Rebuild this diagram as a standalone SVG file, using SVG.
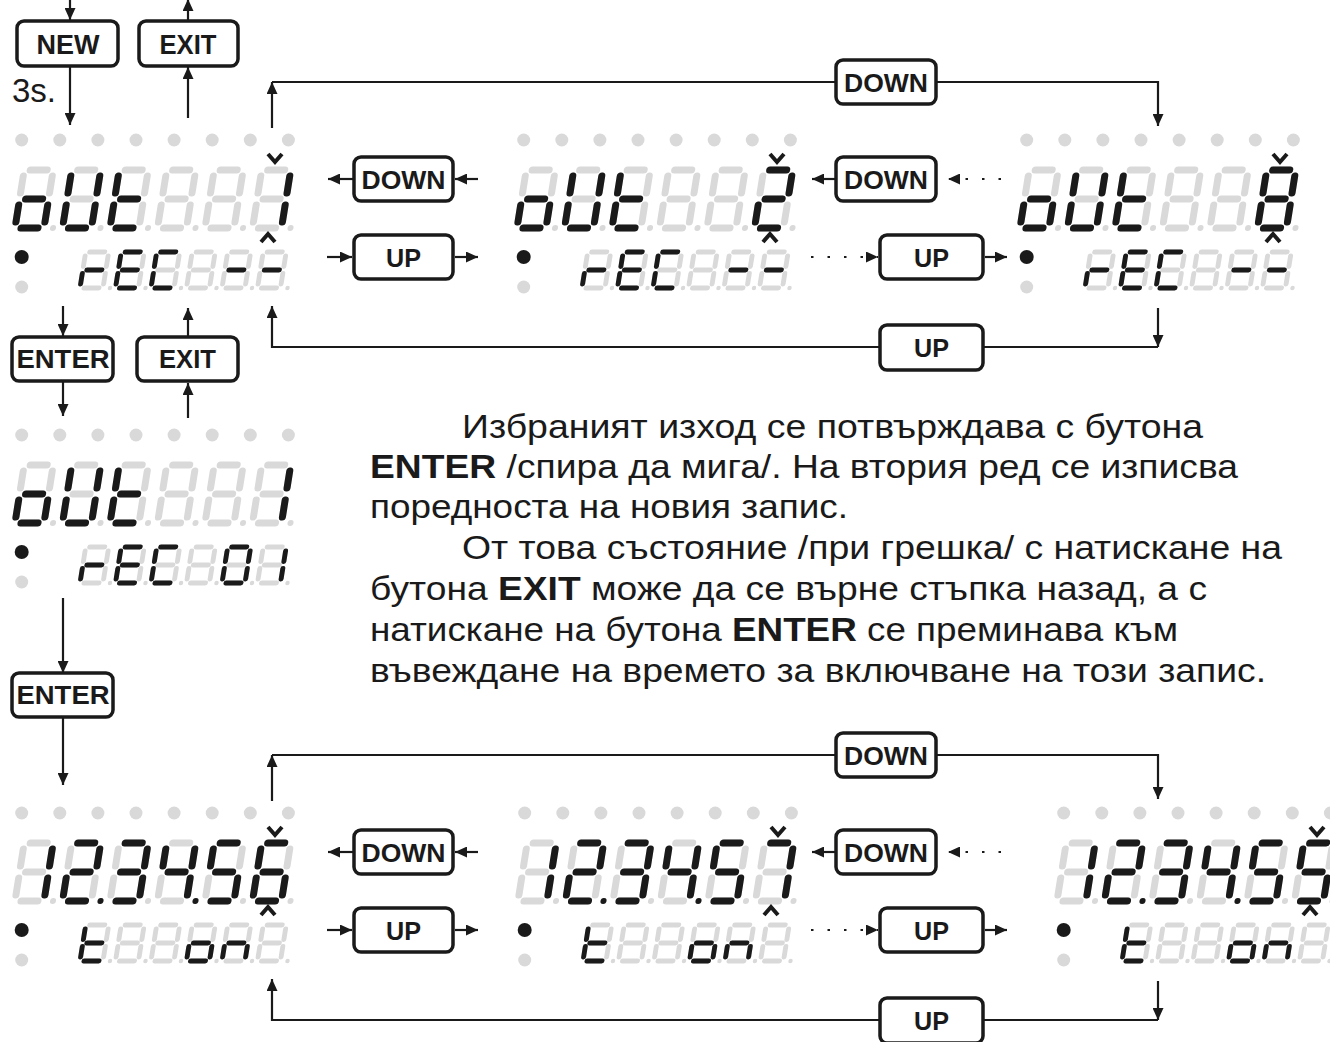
<svg xmlns="http://www.w3.org/2000/svg" width="1330" height="1042" viewBox="0 0 1330 1042">
<style>
.off{stroke:#d9d9d9;fill:#d9d9d9}
.on{stroke:#1a1a1a;fill:#1a1a1a}
.big{stroke-width:7;stroke-linecap:round}
.sm{stroke-width:4.9;stroke-linecap:round}
.gd{fill:#d9d9d9}
.bd{fill:#1a1a1a}
.btn{fill:#fff;stroke:#1a1a1a;stroke-width:3.5}
.bt{font-family:"Liberation Sans",Arial,sans-serif;font-weight:bold;font-size:26px;fill:#1a1a1a;text-anchor:middle}
.bt.lg{font-size:28px}
.ln{fill:none;stroke:#1a1a1a;stroke-width:2.2}
.dot{stroke-dasharray:2.5 14}
.p{font-family:"Liberation Sans",Arial,sans-serif;font-size:33px;fill:#1a1a1a}
.car{fill:none;stroke:#1a1a1a;stroke-width:4}
</style>
<defs>
<marker id="ah" viewBox="0 0 12 11" refX="12" refY="5.5" markerWidth="12" markerHeight="11" orient="auto" markerUnits="userSpaceOnUse"><path d="M0,0L12,5.5L0,11z" fill="#1a1a1a" stroke="none"/></marker>
<path id="ba" d="M6,0H23"/>
<path id="bb" d="M29,6V23"/>
<path id="bc" d="M29,35V52"/>
<path id="bd" d="M6,58H23"/>
<path id="be" d="M0,35V52"/>
<path id="bf" d="M0,6V23"/>
<path id="bg" d="M6,29H23"/>
<circle id="bp" cx="38" cy="58" r="3" stroke="none"/>
<path id="sa" d="M4,0H19"/>
<path id="sb" d="M23,4V14.5"/>
<path id="sc" d="M23,21.5V32"/>
<path id="sd" d="M4,36H19"/>
<path id="se" d="M0,21.5V32"/>
<path id="sf" d="M0,4V14.5"/>
<path id="sg" d="M4,18H19"/>
<circle id="sp" cx="30" cy="36" r="2.2" stroke="none"/>
<g id="B8"><use href="#ba"/><use href="#bb"/><use href="#bc"/><use href="#bd"/><use href="#be"/><use href="#bf"/><use href="#bg"/><use href="#bp"/></g>
<g id="S8"><use href="#sa"/><use href="#sb"/><use href="#sc"/><use href="#sd"/><use href="#se"/><use href="#sf"/><use href="#sg"/><use href="#sp"/></g>
<g id="Bo"><use href="#bc"/><use href="#bd"/><use href="#be"/><use href="#bg"/></g>
<g id="BU"><use href="#bb"/><use href="#bc"/><use href="#bd"/><use href="#be"/><use href="#bf"/></g>
<g id="Bt"><use href="#bd"/><use href="#be"/><use href="#bf"/><use href="#bg"/></g>
<g id="B1"><use href="#bb"/><use href="#bc"/></g>
<g id="B2"><use href="#ba"/><use href="#bb"/><use href="#bg"/><use href="#be"/><use href="#bd"/></g>
<g id="B3"><use href="#ba"/><use href="#bb"/><use href="#bg"/><use href="#bc"/><use href="#bd"/></g>
<g id="B4"><use href="#bf"/><use href="#bg"/><use href="#bb"/><use href="#bc"/></g>
<g id="B5"><use href="#ba"/><use href="#bf"/><use href="#bg"/><use href="#bc"/><use href="#bd"/></g>
<g id="B6"><use href="#ba"/><use href="#bf"/><use href="#bg"/><use href="#be"/><use href="#bc"/><use href="#bd"/></g>
<g id="B7"><use href="#ba"/><use href="#bb"/><use href="#bc"/></g>
<g id="Ball"><use href="#ba"/><use href="#bb"/><use href="#bc"/><use href="#bd"/><use href="#be"/><use href="#bf"/><use href="#bg"/></g>
<g id="Sr"><use href="#se"/><use href="#sg"/></g>
<g id="SE"><use href="#sa"/><use href="#sd"/><use href="#se"/><use href="#sf"/><use href="#sg"/></g>
<g id="SC"><use href="#sa"/><use href="#sd"/><use href="#se"/><use href="#sf"/></g>
<g id="Sm"><use href="#sg"/></g>
<g id="S0"><use href="#sa"/><use href="#sb"/><use href="#sc"/><use href="#sd"/><use href="#se"/><use href="#sf"/></g>
<g id="S1"><use href="#sb"/><use href="#sc"/></g>
<g id="St"><use href="#sd"/><use href="#se"/><use href="#sf"/><use href="#sg"/></g>
<g id="So"><use href="#sc"/><use href="#sd"/><use href="#se"/><use href="#sg"/></g>
<g id="Sn"><use href="#sc"/><use href="#se"/><use href="#sg"/></g>
<g id="frame">
<g class="gd"><circle cx="21.7" cy="140" r="6.5"/><circle cx="59.8" cy="140" r="6.5"/><circle cx="97.9" cy="140" r="6.5"/><circle cx="136" cy="140" r="6.5"/><circle cx="174.1" cy="140" r="6.5"/><circle cx="212.2" cy="140" r="6.5"/><circle cx="250.3" cy="140" r="6.5"/><circle cx="288.4" cy="140" r="6.5"/><circle cx="21.7" cy="287" r="6.5"/></g>
<circle class="bd" cx="21.7" cy="257" r="7"/>
<g class="off big"><use href="#B8" transform="translate(24.2,170) skewX(-9)"/><use href="#B8" transform="translate(71.7,170) skewX(-9)"/><use href="#B8" transform="translate(119.2,170) skewX(-9)"/><use href="#B8" transform="translate(166.7,170) skewX(-9)"/><use href="#B8" transform="translate(214.2,170) skewX(-9)"/><use href="#B8" transform="translate(261.7,170) skewX(-9)"/></g>
<g class="off sm"><use href="#S8" transform="translate(85.7,252) skewX(-9)"/><use href="#S8" transform="translate(121.2,252) skewX(-9)"/><use href="#S8" transform="translate(156.7,252) skewX(-9)"/><use href="#S8" transform="translate(192.2,252) skewX(-9)"/><use href="#S8" transform="translate(227.7,252) skewX(-9)"/><use href="#S8" transform="translate(263.2,252) skewX(-9)"/></g>
</g>
<g id="oUt"><use href="#Bo" transform="translate(24.2,170) skewX(-9)"/><use href="#BU" transform="translate(71.7,170) skewX(-9)"/><use href="#Bt" transform="translate(119.2,170) skewX(-9)"/></g>
<g id="rEC"><use href="#Sr" transform="translate(85.7,252) skewX(-9)"/><use href="#SE" transform="translate(121.2,252) skewX(-9)"/><use href="#SC" transform="translate(156.7,252) skewX(-9)"/></g>
<g id="n12345"><use href="#B1" transform="translate(24.2,170) skewX(-9)"/><use href="#B2" transform="translate(71.7,170) skewX(-9)"/><use href="#bp" transform="translate(71.7,170) skewX(-9)"/><use href="#B3" transform="translate(119.2,170) skewX(-9)"/><use href="#B4" transform="translate(166.7,170) skewX(-9)"/><use href="#bp" transform="translate(166.7,170) skewX(-9)"/><use href="#B5" transform="translate(214.2,170) skewX(-9)"/></g>
<g id="ton"><use href="#St" transform="translate(85.7,252) skewX(-9)"/><use href="#So" transform="translate(192.2,252) skewX(-9)"/><use href="#Sn" transform="translate(227.7,252) skewX(-9)"/></g>
<g id="carets"><polyline class="car" points="268,154 275,162 282,154"/><polyline class="car" points="261,242 268,234 275,242"/></g>
</defs>
<rect width="1330" height="1042" fill="#fff"/>

<g id="connectors">
<path class="ln" d="M70,-2V20" marker-end="url(#ah)"/>
<path class="ln" d="M70,66V125" marker-end="url(#ah)"/>
<path class="ln" d="M188,21V-1" marker-end="url(#ah)"/>
<path class="ln" d="M188,118V67" marker-end="url(#ah)"/>
<path class="ln" d="M63,306V336" marker-end="url(#ah)"/>
<path class="ln" d="M63,381V416" marker-end="url(#ah)"/>
<path class="ln" d="M188,337V308" marker-end="url(#ah)"/>
<path class="ln" d="M188,418V383" marker-end="url(#ah)"/>
<path class="ln" d="M63,598V673" marker-end="url(#ah)"/>
<path class="ln" d="M63,717V785" marker-end="url(#ah)"/>
<g id="row-a-links">
<path class="ln" d="M272,128V82" marker-end="url(#ah)"/>
<path class="ln" d="M272,82H1158V126" marker-end="url(#ah)"/>
<path class="ln" d="M354,179H328" marker-end="url(#ah)"/>
<path class="ln" d="M478,179H455" marker-end="url(#ah)"/>
<path class="ln" d="M327,257H352" marker-end="url(#ah)"/>
<path class="ln" d="M455,257H478" marker-end="url(#ah)"/>
<path class="ln" d="M836,179H812" marker-end="url(#ah)"/>
<path class="ln dot" d="M1001,179H948" marker-end="url(#ah)"/>
<path class="ln dot" d="M811,257H878" marker-end="url(#ah)"/>
<path class="ln" d="M985,257H1007" marker-end="url(#ah)"/>
<path class="ln" d="M1158,308V347" marker-end="url(#ah)"/>
<path class="ln" d="M1158,347H272V306" marker-end="url(#ah)"/>
</g>
<g id="row-c-links" transform="translate(0,673)">
<path class="ln" d="M272,128V82" marker-end="url(#ah)"/>
<path class="ln" d="M272,82H1158V126" marker-end="url(#ah)"/>
<path class="ln" d="M354,179H328" marker-end="url(#ah)"/>
<path class="ln" d="M478,179H455" marker-end="url(#ah)"/>
<path class="ln" d="M327,257H352" marker-end="url(#ah)"/>
<path class="ln" d="M455,257H478" marker-end="url(#ah)"/>
<path class="ln" d="M836,179H812" marker-end="url(#ah)"/>
<path class="ln dot" d="M1001,179H948" marker-end="url(#ah)"/>
<path class="ln dot" d="M811,257H878" marker-end="url(#ah)"/>
<path class="ln" d="M985,257H1007" marker-end="url(#ah)"/>
<path class="ln" d="M1158,308V347" marker-end="url(#ah)"/>
<path class="ln" d="M1158,347H272V306" marker-end="url(#ah)"/>
</g>
</g>

<g id="btn-new"><rect class="btn" x="17" y="21" width="101" height="45" rx="7"/><text class="bt lg" x="68" y="54" textLength="63" lengthAdjust="spacingAndGlyphs">NEW</text></g>
<g id="btn-exit1"><rect class="btn" x="139" y="21" width="99" height="45" rx="7"/><text class="bt lg" x="188" y="54" textLength="57" lengthAdjust="spacingAndGlyphs">EXIT</text></g>
<text id="label-3s" x="12" y="102" font-family="Liberation Sans, Arial, sans-serif" font-size="33" fill="#1a1a1a">3s.</text>
<g id="btn-enter1"><rect class="btn" x="12" y="337" width="101" height="44" rx="7"/><text class="bt" x="63" y="368" textLength="93" lengthAdjust="spacingAndGlyphs">ENTER</text></g>
<g id="btn-exit2"><rect class="btn" x="137" y="337" width="101" height="44" rx="7"/><text class="bt" x="187.5" y="368" textLength="57" lengthAdjust="spacingAndGlyphs">EXIT</text></g>
<g id="btn-enter2"><rect class="btn" x="12" y="673" width="101" height="44" rx="7"/><text class="bt" x="63" y="704" textLength="93" lengthAdjust="spacingAndGlyphs">ENTER</text></g>

<g id="btn-down-a0"><rect class="btn" x="836" y="60" width="100" height="44" rx="7"/><text class="bt" x="886" y="91.5" textLength="84" lengthAdjust="spacingAndGlyphs">DOWN</text></g>
<g id="btn-down-a1"><rect class="btn" x="354" y="157" width="99" height="44" rx="7"/><text class="bt" x="403.5" y="188.5" textLength="84" lengthAdjust="spacingAndGlyphs">DOWN</text></g>
<g id="btn-up-a1"><rect class="btn" x="354" y="235" width="99" height="44" rx="7"/><text class="bt" x="403.5" y="266.5" textLength="35" lengthAdjust="spacingAndGlyphs">UP</text></g>
<g id="btn-down-a2"><rect class="btn" x="836" y="157" width="100" height="44" rx="7"/><text class="bt" x="886" y="188.5" textLength="84" lengthAdjust="spacingAndGlyphs">DOWN</text></g>
<g id="btn-up-a2"><rect class="btn" x="880" y="235" width="103" height="44" rx="7"/><text class="bt" x="931.5" y="266.5" textLength="35" lengthAdjust="spacingAndGlyphs">UP</text></g>
<g id="btn-up-a3"><rect class="btn" x="880" y="325" width="103" height="45" rx="7"/><text class="bt" x="931.5" y="357" textLength="35" lengthAdjust="spacingAndGlyphs">UP</text></g>

<g id="btn-down-c0"><rect class="btn" x="836" y="733" width="100" height="44" rx="7"/><text class="bt" x="886" y="764.5" textLength="84" lengthAdjust="spacingAndGlyphs">DOWN</text></g>
<g id="btn-down-c1"><rect class="btn" x="354" y="830" width="99" height="44" rx="7"/><text class="bt" x="403.5" y="861.5" textLength="84" lengthAdjust="spacingAndGlyphs">DOWN</text></g>
<g id="btn-up-c1"><rect class="btn" x="354" y="908" width="99" height="44" rx="7"/><text class="bt" x="403.5" y="939.5" textLength="35" lengthAdjust="spacingAndGlyphs">UP</text></g>
<g id="btn-down-c2"><rect class="btn" x="836" y="830" width="100" height="44" rx="7"/><text class="bt" x="886" y="861.5" textLength="84" lengthAdjust="spacingAndGlyphs">DOWN</text></g>
<g id="btn-up-c2"><rect class="btn" x="880" y="908" width="103" height="44" rx="7"/><text class="bt" x="931.5" y="939.5" textLength="35" lengthAdjust="spacingAndGlyphs">UP</text></g>
<g id="btn-up-c3"><rect class="btn" x="880" y="998" width="103" height="45" rx="7"/><text class="bt" x="931.5" y="1030" textLength="35" lengthAdjust="spacingAndGlyphs">UP</text></g>

<g id="disp-out1">
<use href="#frame"/>
<g class="on big"><use href="#oUt"/><use href="#B1" transform="translate(261.7,170) skewX(-9)"/></g>
<g class="on sm"><use href="#rEC"/><use href="#Sm" transform="translate(227.7,252) skewX(-9)"/><use href="#Sm" transform="translate(263.2,252) skewX(-9)"/></g>
<use href="#carets"/>
</g>
<g id="disp-out2" transform="translate(502,0)">
<use href="#frame"/>
<g class="on big"><use href="#oUt"/><use href="#B2" transform="translate(261.7,170) skewX(-9)"/></g>
<g class="on sm"><use href="#rEC"/><use href="#Sm" transform="translate(227.7,252) skewX(-9)"/><use href="#Sm" transform="translate(263.2,252) skewX(-9)"/></g>
<use href="#carets"/>
</g>
<g id="disp-out8" transform="translate(1005,0)">
<use href="#frame"/>
<g class="on big"><use href="#oUt"/><use href="#Ball" transform="translate(261.7,170) skewX(-9)"/></g>
<g class="on sm"><use href="#rEC"/><use href="#Sm" transform="translate(227.7,252) skewX(-9)"/><use href="#Sm" transform="translate(263.2,252) skewX(-9)"/></g>
<use href="#carets"/>
</g>
<g id="disp-rec01" transform="translate(0,295)">
<use href="#frame"/>
<g class="on big"><use href="#oUt"/><use href="#B1" transform="translate(261.7,170) skewX(-9)"/></g>
<g class="on sm"><use href="#rEC"/><use href="#S0" transform="translate(227.7,252) skewX(-9)"/><use href="#S1" transform="translate(263.2,252) skewX(-9)"/></g>
</g>
<g id="disp-ton6" transform="translate(0,673)">
<use href="#frame"/>
<g class="on big"><use href="#n12345"/><use href="#B6" transform="translate(261.7,170) skewX(-9)"/></g>
<g class="on sm"><use href="#ton"/></g>
<use href="#carets"/>
</g>
<g id="disp-ton7" transform="translate(503,673)">
<use href="#frame"/>
<g class="on big"><use href="#n12345"/><use href="#B7" transform="translate(261.7,170) skewX(-9)"/></g>
<g class="on sm"><use href="#ton"/></g>
<use href="#carets"/>
</g>
<g id="disp-ton5" transform="translate(1042,673)">
<use href="#frame"/>
<g class="on big"><use href="#n12345"/><use href="#B5" transform="translate(261.7,170) skewX(-9)"/></g>
<g class="on sm"><use href="#ton"/></g>
<use href="#carets"/>
</g>

<g id="description">
<text class="p" x="462" y="438" textLength="741" lengthAdjust="spacingAndGlyphs">Избраният изход се потвърждава с бутона</text>
<text class="p" x="370" y="478" textLength="868" lengthAdjust="spacingAndGlyphs"><tspan font-weight="bold">ENTER</tspan> /спира да мига/. На втория ред се изписва</text>
<text class="p" x="370" y="518" textLength="478" lengthAdjust="spacingAndGlyphs">поредноста на новия запис.</text>
<text class="p" x="462" y="559" textLength="820" lengthAdjust="spacingAndGlyphs">От това състояние /при грешка/ с натискане на</text>
<text class="p" x="370" y="600" textLength="837" lengthAdjust="spacingAndGlyphs">бутона <tspan font-weight="bold">EXIT</tspan> може да се върне стъпка назад, а с</text>
<text class="p" x="370" y="641" textLength="808" lengthAdjust="spacingAndGlyphs">натискане на бутона <tspan font-weight="bold">ENTER</tspan> се преминава към</text>
<text class="p" x="370" y="682" textLength="896" lengthAdjust="spacingAndGlyphs">въвеждане на времето за включване на този запис.</text>
</g>
</svg>
